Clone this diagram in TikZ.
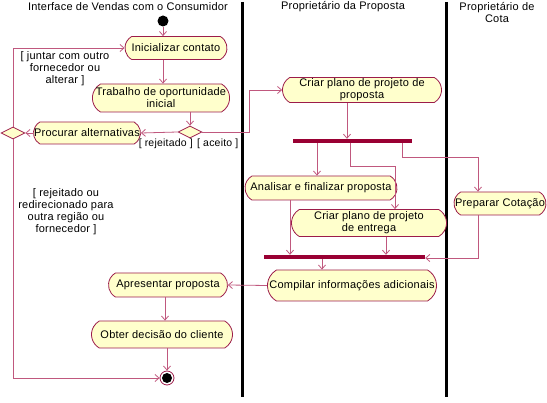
\documentclass[tikz,border=0pt]{standalone}
\usepackage{fontspec}
\setmainfont[LetterSpace=2]{Liberation Sans}
\usetikzlibrary{shapes.misc,shapes.geometric,arrows.meta,calc}
\definecolor{boxred}{HTML}{9C1C4A}
\definecolor{boxfill}{HTML}{FFFFCC}
\definecolor{arrowpink}{HTML}{C0587E}
\definecolor{barred}{HTML}{990033}
\tikzset{
  act/.style={rounded rectangle, rounded rectangle arc length=120, draw=boxred, fill=boxfill,
    line width=0.8pt, inner sep=0pt, align=center, font=\fontsize{11}{12}\selectfont},
  flow/.style={draw=arrowpink, line width=0.8pt, -{Straight Barb[length=4pt,width=7pt]}},
  syncbar/.style={fill=barred, inner sep=0pt, minimum height=4pt},
  dec/.style={diamond, draw=boxred, fill=boxfill, line width=0.8pt, minimum width=24pt, minimum height=12pt, inner sep=0pt},
  lane/.style={line width=3pt, black},
  lbl/.style={align=center, inner sep=0pt, font=\fontsize{11}{12}\selectfont},
  guard/.style={inner sep=0pt, font=\fontsize{10.5}{12}\selectfont},
}
\begin{document}
\begin{tikzpicture}[x=1pt,y=-1pt]
\useasboundingbox (0,0) rectangle (547,403);
% swimlanes
\coordinate (l1t) at (242,2); \coordinate (l1b) at (242,397);
\coordinate (l2t) at (446,2); \coordinate (l2b) at (446,397);
\draw[lane] (l1t) -- (l1b);
\draw[lane] (l2t) -- (l2b);
\node[lbl] (h1) at (128,7) {Interface de Vendas com o Consumidor};
\node[lbl] (h2) at (343,7) {Proprietário da Proposta};
\node[lbl] (h3) at (497,13) {Proprietário de\\Cota};
% nodes
\node[circle, fill=black, minimum size=11pt, inner sep=0pt] (start) at (163,21) {};
\node[act, minimum width=102pt, minimum height=23pt] (init) at (176,48) {Inicializar contato};
\node[act, minimum width=137pt, minimum height=28pt] (trab) at (161,98) {Trabalho de oportunidade\\inicial};
\node[dec] (d1) at (190,132) {};
\node[act, minimum width=105pt, minimum height=22pt] (proc) at (87,133) {Procurar alternativas};
\node[dec] (d2) at (13,133) {};
\node[act, minimum width=159pt, minimum height=25pt] (criarP) at (362,90) {Criar plano de projeto de\\proposta};
\node[syncbar, minimum width=119pt] (bar1) at (352.5,141) {};
\node[act, minimum width=152pt, minimum height=24pt] (anal) at (321,188) {Analisar e finalizar proposta};
\node[act, minimum width=155pt, minimum height=27pt] (criarE) at (369,223) {Criar plano de projeto\\de entrega};
\node[act, minimum width=92pt, minimum height=23pt] (prep) at (500,203.5) {Preparar Cotação};
\node[syncbar, minimum width=161pt] (bar2) at (344.5,257) {};
\node[act, minimum width=169pt, minimum height=31pt] (comp) at (352,285.5) {Compilar informações adicionais};
\node[act, minimum width=119pt, minimum height=24pt] (apres) at (168,285) {Apresentar proposta};
\node[act, minimum width=141pt, minimum height=27pt] (obter) at (162,334.5) {Obter decisão do cliente};
\node[circle, draw=boxred, fill=white, line width=0.8pt, minimum size=14pt, inner sep=0pt] (endc) at (167,378) {};
\node[circle, fill=black, minimum size=10pt, inner sep=0pt] (endi) at (167,378) {};
% guard labels
\node[lbl] (g1) at (65,69) {[ juntar com outro\\fornecedor ou\\alterar ]};
\node[guard, anchor=east] (g2) at (193,143.5) {[ rejeitado ]};
\node[guard, anchor=west] (g3) at (197,143.5) {[ aceito ]};
\node[lbl] (g4) at (66,212) {[ rejeitado ou\\redirecionado para\\outra região ou\\fornecedor ]};
% connectors
\draw[flow] (start) -- (start |- init.north);
\draw[flow] (init.south -| start) -- (trab.north -| start);
\draw[flow] (trab.south -| d1) -- (d1.north);
\draw[flow] (d1.west) -- (proc.east);
\draw[flow] (proc.west) -- (d2.east);
\draw[flow] (d2.north) |- (init.west);
\draw[flow] (d2.south) |- (endc.west);
\coordinate (c1) at (249,132);
\draw[flow] (d1.east) -- (c1) |- (criarP.west);
\draw[flow] ([xshift=-15pt]criarP.south) -- ([xshift=-15pt]criarP.south |- bar1.north);
\draw[flow] ([xshift=-35.5pt]bar1.south) -- ([xshift=-35.5pt]bar1.south |- anal.north);
\draw[flow] ([xshift=-2.5pt]bar1.south) -- ++(0,23) -| ([xshift=26pt]criarE.north);
\draw[flow] ([xshift=49.5pt]bar1.south) -- ++(0,14) -| ([xshift=-22pt]prep.north);
\draw[flow] ([xshift=-31pt]anal.south) -- ([xshift=-31pt]anal.south |- bar2.north);
\draw[flow] ([xshift=17pt]criarE.south) -- ([xshift=17pt]criarE.south |- bar2.north);
\draw[flow] ([xshift=-22pt]prep.south) |- ([yshift=-1pt]bar2.east);
\draw[flow] ([xshift=-22.5pt]bar2.south) -- ([xshift=-22.5pt]bar2.south |- comp.north);
\draw[flow] (comp.west) -- (apres.east);
\draw[flow] ([xshift=-3pt]apres.south) -- ([xshift=-3pt]apres.south |- obter.north);
\draw[flow] (obter.south -| endc) -- (endc.north);
\end{tikzpicture}
\end{document}
